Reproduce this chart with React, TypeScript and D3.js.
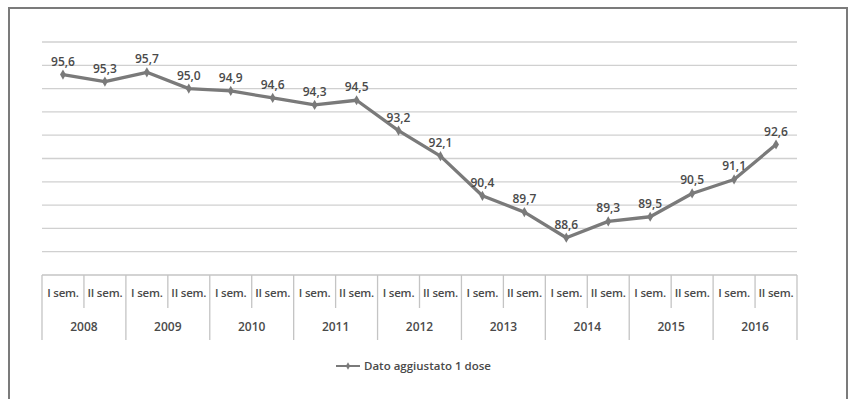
import React from "react";
import * as d3 from "d3";

const years = ["2008", "2009", "2010", "2011", "2012", "2013", "2014", "2015", "2016"];
const semesters = ["I sem.", "II sem."];
const values = [95.6, 95.3, 95.7, 95.0, 94.9, 94.6, 94.3, 94.5, 93.2, 92.1, 90.4, 89.7, 88.6, 89.3, 89.5, 90.5, 91.1, 92.6];
const yTicks = [88, 89, 90, 91, 92, 93, 94, 95, 96, 97];
const seriesName = "Dato aggiustato 1 dose";

const W = 849, H = 399;
const plot = { left: 42, right: 797, top: 42, bottom: 275 };

export default function App() {
  const cats = years.flatMap((y) => semesters.map((s) => `${y}|${s}`));
  const x = d3.scaleBand().domain(cats).range([plot.left, plot.right]);
  const y = d3.scaleLinear().domain([87, 97]).range([plot.bottom, plot.top]);
  const cx = (i: number) => (x(cats[i]) as number) + x.bandwidth() / 2;
  const line = d3.line<number>().x((_, i) => cx(i)).y((d) => y(d));
  const fmt = (v: number) => v.toFixed(1).replace(".", ",");
  const font = "'Open Sans', 'DejaVu Sans', sans-serif";
  const lineColor = "#7a7a7a";
  const textColor = "#4a4a4a";
  const yearW = x.bandwidth() * 2;
  const diamond = d3.symbol().type(d3.symbolDiamond).size(30);

  return (
    <svg width={W} height={H} style={{ position: "absolute", left: 0, top: 0 }} fontFamily={font}>
      <rect x={0} y={0} width={W} height={H} fill="#fff" />
      <rect x={9} y={8} width={838} height={H + 10} fill="#fff" stroke="#7b7b7b" strokeWidth={2} />
      {yTicks.map((t) => (
        <line key={t} x1={plot.left} x2={plot.right} y1={y(t)} y2={y(t)} stroke="#d0d0d0" strokeWidth={1.3} />
      ))}
      {/* category axis */}
      <line x1={plot.left} x2={plot.right} y1={plot.bottom} y2={plot.bottom} stroke="#c4c4c4" strokeWidth={1.3} />
      {cats.map((c, i) => {
        const x0 = x(c) as number;
        const isYearStart = i % 2 === 0;
        return (
          <g key={c}>
            <line x1={x0} x2={x0} y1={plot.bottom} y2={isYearStart ? 340 : 308} stroke="#c4c4c4" strokeWidth={1.3} />
            <text x={x0 + x.bandwidth() / 2} y={297} textAnchor="middle" fontSize={11.5} fill={textColor} fontWeight={600} letterSpacing={-0.2}>
              {c.split("|")[1]}
            </text>
          </g>
        );
      })}
      <line x1={plot.right} x2={plot.right} y1={plot.bottom} y2={340} stroke="#c4c4c4" strokeWidth={1.3} />
      {years.map((yr, i) => (
        <text key={yr} x={plot.left + yearW * i + yearW / 2} y={331} textAnchor="middle" fontSize={12} fill={textColor} fontWeight={600}>
          {yr}
        </text>
      ))}
      {/* series */}
      <path d={line(values) || ""} fill="none" stroke={lineColor} strokeWidth={3.3} strokeLinejoin="round" />
      {values.map((v, i) => (
        <path key={i} d={diamond() || ""} transform={`translate(${cx(i)},${y(v)})`} fill={lineColor} />
      ))}
      {values.map((v, i) => (
        <text key={"l" + i} x={cx(i)} y={y(v) - 9} textAnchor="middle" fontSize={12} fill={textColor} fontWeight={600}>
          {fmt(v)}
        </text>
      ))}
      {/* legend */}
      <line x1={336} x2={360} y1={366} y2={366} stroke={lineColor} strokeWidth={2} />
      <path d={d3.symbol().type(d3.symbolDiamond).size(16)() || ""} transform="translate(348,366)" fill={lineColor} />
      <text x={364} y={370} fontSize={11.5} fill={textColor} fontWeight={600}>
        {seriesName}
      </text>
    </svg>
  );
}
